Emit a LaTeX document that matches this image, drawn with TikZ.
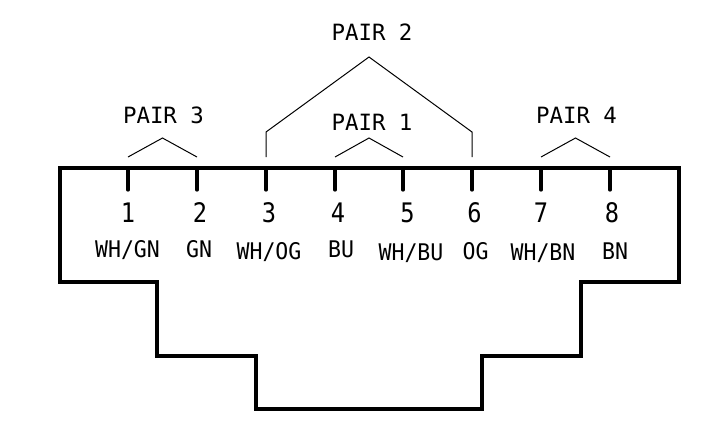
\documentclass[tikz,border=0pt]{standalone}
\usepackage{fontspec}
\setmainfont{DejaVu Sans Mono}
\begin{document}
\begin{tikzpicture}[x=1bp,y=-1bp,line join=miter,
  shell/.style={line width=4bp,black},
  pin/.style={line width=3.2bp,black,line cap=round},
  pairline/.style={line width=1bp,black},
  pairlabel/.style={inner sep=0pt,font=\fontsize{22.5}{23}\selectfont},
  pinnum/.style={inner sep=0pt,font=\fontsize{27}{28}\selectfont,xscale=.88,transform shape},
  colour/.style={inner sep=0pt,font=\fontsize{23}{24}\selectfont,xscale=.94,transform shape}]
\useasboundingbox (0,0) rectangle (702,428);
\draw[shell] (60,168) -- (679,168) -- (679,282) -- (581,282) -- (581,356) -- (482,356) -- (482,409) -- (256,409) -- (256,356) -- (157,356) -- (157,282) -- (60,282) -- cycle;
% pins
\foreach \n/\x in {1/128,2/197,3/266,4/335,5/403,6/472,7/541,8/610}{
  \coordinate (top\n) at (\x,168);
  \coordinate (end\n) at (\x,190);
  \coordinate (up\n) at (\x,157);
  \draw[pin] (top\n) -- (end\n);
}
% pair brackets
\coordinate (apex3) at (162.5,138);
\coordinate (apex1) at (369,138);
\coordinate (apex4) at (575.5,138);
\coordinate (apex2) at (369,57);
\coordinate (kneeL) at (266,132);
\coordinate (kneeR) at (472,132);
\draw[pairline] (up1) -- (apex3) -- (up2);
\draw[pairline] (up4) -- (apex1) -- (up5);
\draw[pairline] (up7) -- (apex4) -- (up8);
\draw[pairline] (up3) -- (kneeL) -- (apex2) -- (kneeR) -- (up6);
% labels
\node[pairlabel] (p3) at (163.5,115.5) {PAIR 3};
\node[pairlabel] (p1) at (372,122) {PAIR 1};
\node[pairlabel] (p2) at (372,32) {PAIR 2};
\node[pairlabel] (p4) at (576.5,115.5) {PAIR 4};
\node[pinnum] (n1) at (128,213) {1};
\node[pinnum] (n2) at (200,213) {2};
\node[pinnum] (n3) at (269,213) {3};
\node[pinnum] (n4) at (338,213) {4};
\node[pinnum] (n5) at (407.5,213) {5};
\node[pinnum] (n6) at (474.5,213) {6};
\node[pinnum] (n7) at (541,213) {7};
\node[pinnum] (n8) at (612,213) {8};
\node[colour] (c1) at (127.5,250) {WH/GN};
\node[colour] (c2) at (199,249) {GN};
\node[colour] (c3) at (269,252) {WH/OG};
\node[colour] (c4) at (341,249) {BU};
\node[colour] (c5) at (411,253) {WH/BU};
\node[colour] (c6) at (475.5,251) {OG};
\node[colour] (c7) at (543,253) {WH/BN};
\node[colour] (c8) at (615,251) {BN};
\end{tikzpicture}
\end{document}
